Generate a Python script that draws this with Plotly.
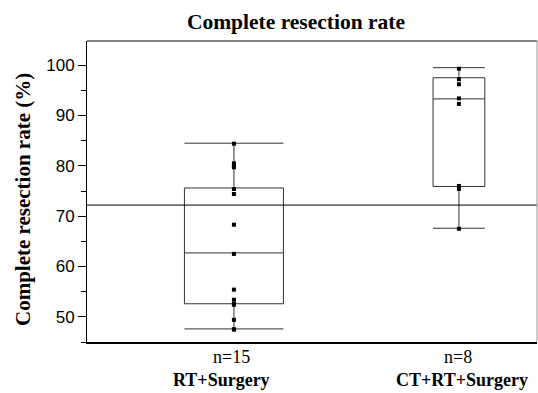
import plotly.graph_objects as go

# ---- data ----
groups = ["RT+Surgery", "CT+RT+Surgery"]
group_pos = [1, 2]
n_labels = ["n=15", "n=8"]

rt_points = [84.4, 80.5, 80.0, 79.7, 75.4, 74.4, 68.3, 62.5, 55.4, 53.4, 52.6, 52.4, 49.4, 47.5, 47.5]
ct_points = [99.3, 97.2, 96.2, 93.4, 92.3, 76.0, 75.4, 67.5]

q1 = [52.6, 75.9]
median = [62.7, 93.3]
q3 = [75.6, 97.5]
lower = [47.6, 67.6]
upper = [84.5, 99.5]
box_widths = [0.44, 0.23]

overall_mean = 72.2

serif = "Liberation Serif, Times New Roman, serif"
sans = "Liberation Sans, Arial, sans-serif"

fig = go.Figure()

for i in range(2):
    fig.add_trace(go.Box(
        x=[group_pos[i]], q1=[q1[i]], median=[median[i]], q3=[q3[i]],
        lowerfence=[lower[i]], upperfence=[upper[i]],
        width=box_widths[i], whiskerwidth=1,
        fillcolor="rgba(0,0,0,0)", line=dict(color="#333333", width=1),
        boxpoints=False, showlegend=False, hoverinfo="skip"))

fig.add_trace(go.Scatter(x=[group_pos[0]] * len(rt_points), y=rt_points, mode="markers",
                         marker=dict(symbol="square", size=4, color="black"), showlegend=False))
fig.add_trace(go.Scatter(x=[group_pos[1]] * len(ct_points), y=ct_points, mode="markers",
                         marker=dict(symbol="square", size=4, color="black"), showlegend=False))

# mean reference line
fig.add_shape(type="line", xref="paper", x0=0, x1=1, yref="y", y0=overall_mean, y1=overall_mean,
              line=dict(color="black", width=1))
# frame: top black, right gray
fig.add_shape(type="line", xref="paper", yref="paper", x0=0, x1=1, y0=1, y1=1,
              line=dict(color="black", width=1))
fig.add_shape(type="line", xref="paper", yref="paper", x0=1, x1=1, y0=0, y1=1,
              line=dict(color="#999999", width=1))

# x labels
shifts_n = [-2, -1]
shifts_g = [-12, 3]
for i in range(2):
    fig.add_annotation(x=group_pos[i], xref="x", y=-0.05, yref="paper", text=n_labels[i],
                       showarrow=False, xshift=shifts_n[i], yanchor="middle",
                       font=dict(family=serif, size=18, color="black"))
    fig.add_annotation(x=group_pos[i], xref="x", y=-0.125, yref="paper", text="<b>%s</b>" % groups[i],
                       showarrow=False, xshift=shifts_g[i], yanchor="middle",
                       font=dict(family=serif, size=18, color="black"))

# y title
fig.add_annotation(x=-0.142, xref="paper", y=0.472, yref="paper",
                   text="<b>Complete resection rate (%)</b>", textangle=-90, showarrow=False,
                   xanchor="center", yanchor="middle",
                   font=dict(family=serif, size=21, color="black"))

fig.update_layout(
    width=538, height=393,
    margin=dict(l=87, r=1, t=41, b=51),
    paper_bgcolor="white", plot_bgcolor="white",
    title=dict(text="<b>Complete resection rate</b>", x=296 / 538, xanchor="center",
               y=1 - 21 / 393, yanchor="middle",
               font=dict(family=serif, size=21.5, color="black")),
    xaxis=dict(range=[0.347, 2.347], showticklabels=False, ticks="", showgrid=False,
               zeroline=False, showline=True, linecolor="black", linewidth=2),
    yaxis=dict(range=[45, 104.8], tick0=50, dtick=10, ticks="outside", ticklen=8,
               tickcolor="black", showgrid=False, zeroline=False, showline=True,
               linecolor="black", linewidth=1,
               tickfont=dict(family=sans, size=17, color="black"),
               minor=dict(dtick=5, tick0=45, ticks="outside", ticklen=5, tickcolor="black")),
)

fig.write_html("out.html", config={"displayModeBar": False},
               post_script="document.body.style.margin='0';document.body.style.padding='0';")
